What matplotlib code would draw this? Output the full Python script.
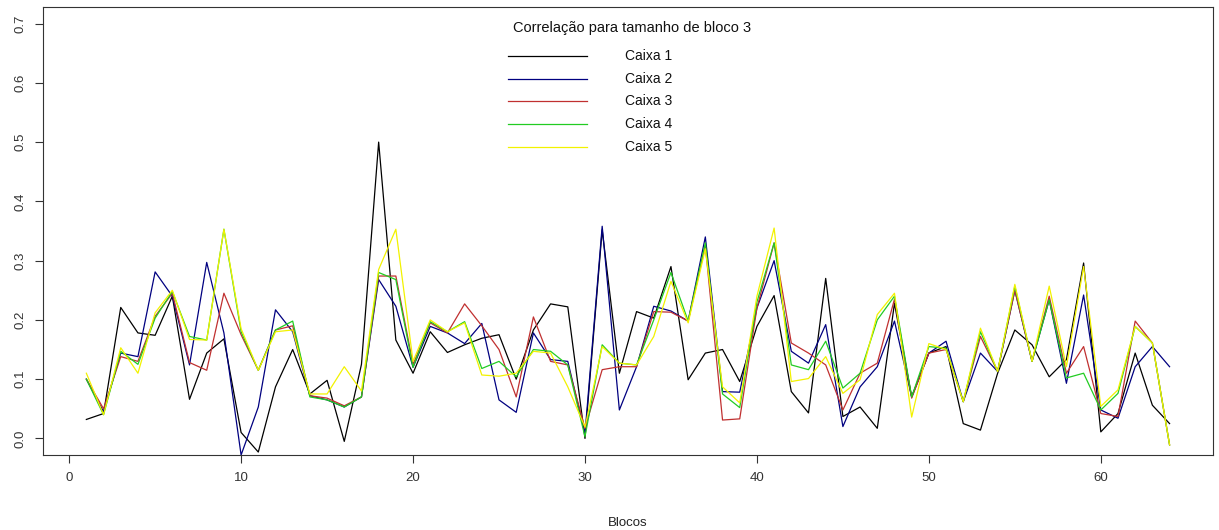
import matplotlib
matplotlib.use("Agg")
import matplotlib.pyplot as plt
from matplotlib.lines import Line2D
import numpy as np

plt.rcParams['font.family'] = ['Liberation Sans', 'DejaVu Sans']

blocos = list(range(1, 65))

caixa1 = [0.032, 0.042, 0.221, 0.178, 0.174, 0.240, 0.066, 0.144, 0.168, 0.010,
          -0.023, 0.087, 0.150, 0.075, 0.098, -0.005, 0.125, 0.500, 0.166, 0.110,
          0.180, 0.145, 0.158, 0.169, 0.175, 0.100, 0.183, 0.227, 0.222, 0.000,
          0.352, 0.110, 0.214, 0.203, 0.290, 0.099, 0.144, 0.150, 0.096, 0.189,
          0.241, 0.079, 0.043, 0.270, 0.037, 0.053, 0.017, 0.228, 0.070, 0.144,
          0.155, 0.025, 0.014, 0.110, 0.183, 0.158, 0.104, 0.133, 0.296, 0.011,
          0.042, 0.144, 0.056, 0.025]
caixa2 = [0.100, 0.045, 0.144, 0.138, 0.281, 0.240, 0.124, 0.297, 0.178, -0.028,
          0.053, 0.217, 0.180, 0.072, 0.065, 0.053, 0.070, 0.268, 0.223, 0.120,
          0.189, 0.178, 0.160, 0.194, 0.065, 0.044, 0.178, 0.133, 0.130, 0.008,
          0.358, 0.048, 0.121, 0.223, 0.215, 0.198, 0.340, 0.079, 0.078, 0.220,
          0.300, 0.147, 0.127, 0.192, 0.020, 0.087, 0.121, 0.198, 0.070, 0.144,
          0.164, 0.062, 0.144, 0.113, 0.250, 0.130, 0.234, 0.093, 0.242, 0.048,
          0.034, 0.121, 0.155, 0.121]
caixa3 = [0.100, 0.050, 0.138, 0.130, 0.206, 0.245, 0.128, 0.115, 0.245, 0.175,
          0.115, 0.183, 0.190, 0.072, 0.068, 0.055, 0.070, 0.274, 0.274, 0.125,
          0.195, 0.178, 0.227, 0.190, 0.150, 0.070, 0.205, 0.130, 0.124, 0.017,
          0.116, 0.121, 0.121, 0.214, 0.213, 0.198, 0.325, 0.031, 0.033, 0.220,
          0.330, 0.161, 0.144, 0.124, 0.048, 0.110, 0.127, 0.235, 0.068, 0.144,
          0.150, 0.062, 0.172, 0.113, 0.250, 0.130, 0.240, 0.110, 0.155, 0.042,
          0.037, 0.198, 0.161, -0.011]
caixa4 = [0.100, 0.040, 0.147, 0.125, 0.203, 0.248, 0.172, 0.166, 0.353, 0.180,
          0.115, 0.183, 0.198, 0.070, 0.065, 0.053, 0.070, 0.280, 0.268, 0.120,
          0.197, 0.180, 0.197, 0.118, 0.130, 0.104, 0.150, 0.147, 0.124, 0.003,
          0.158, 0.127, 0.124, 0.200, 0.280, 0.198, 0.330, 0.075, 0.052, 0.230,
          0.330, 0.124, 0.116, 0.164, 0.085, 0.110, 0.200, 0.240, 0.070, 0.155,
          0.152, 0.062, 0.180, 0.113, 0.257, 0.130, 0.234, 0.102, 0.110, 0.048,
          0.076, 0.189, 0.161, -0.011]
caixa5 = [0.110, 0.040, 0.153, 0.110, 0.212, 0.250, 0.167, 0.166, 0.353, 0.185,
          0.115, 0.180, 0.183, 0.075, 0.075, 0.121, 0.080, 0.285, 0.353, 0.130,
          0.200, 0.180, 0.195, 0.107, 0.105, 0.110, 0.147, 0.144, 0.087, 0.019,
          0.155, 0.127, 0.124, 0.172, 0.265, 0.195, 0.320, 0.087, 0.060, 0.240,
          0.355, 0.096, 0.101, 0.138, 0.076, 0.099, 0.209, 0.245, 0.036, 0.160,
          0.150, 0.062, 0.186, 0.113, 0.260, 0.130, 0.257, 0.121, 0.290, 0.054,
          0.082, 0.189, 0.161, -0.011]

series = [caixa1, caixa2, caixa3, caixa4, caixa5]
labels = ["Caixa 1", "Caixa 2", "Caixa 3", "Caixa 4", "Caixa 5"]
colors = ["#000000", "#000080", "#c03030", "#22cc22", "#f2f200"]
titulo = "Correlação para tamanho de bloco 3"
x_ticks = [0, 10, 20, 30, 40, 50, 60]
y_ticks = [0.0, 0.1, 0.2, 0.3, 0.4, 0.5, 0.6, 0.7]

W, H = 1219, 530
fig = plt.figure(figsize=(W / 100, H / 100), dpi=100)
ax = fig.add_axes([0.0353, 0.1415, 0.9597, 0.8453])

for s, lab, c in zip(series, labels, colors):
    ax.plot(blocos, s, color=c, linewidth=0.9, label=lab)

ax.set_xlim(-1.52, 66.52)
ax.set_ylim(-0.028, 0.728)
ax.set_xticks(x_ticks)
ax.set_yticks(y_ticks)
ax.set_xticklabels([str(t) for t in x_ticks], fontsize=9.5, color="#333333")
ax.set_yticklabels([f"{t:.1f}" for t in y_ticks], fontsize=9.5, rotation=90,
                   va="center", color="#333333")
ax.tick_params(direction="out", length=6, width=0.8, colors="#333333", pad=6)
for sp in ax.spines.values():
    sp.set_linewidth(0.8)
    sp.set_color("#333333")

ax.set_xlabel("Blocos", fontsize=9.5, labelpad=24, color="#222222")

# legend (no box), placed in figure pixel coordinates like the reference
def fx(px):
    return px / W

def fy(py):
    return 1 - py / H

fig.text(fx(513), fy(28), titulo, fontsize=10.5, ha="left", va="center",
         color="#111111")
for k, (lab, c) in enumerate(zip(labels, colors)):
    yy = 56 + 22.7 * k
    fig.add_artist(Line2D([fx(508), fx(587)], [fy(yy), fy(yy)], color=c,
                          linewidth=0.9, transform=fig.transFigure))
    fig.text(fx(625), fy(yy), lab, fontsize=10, ha="left", va="center",
             color="#111111")

fig.savefig("out.png", dpi=100)
